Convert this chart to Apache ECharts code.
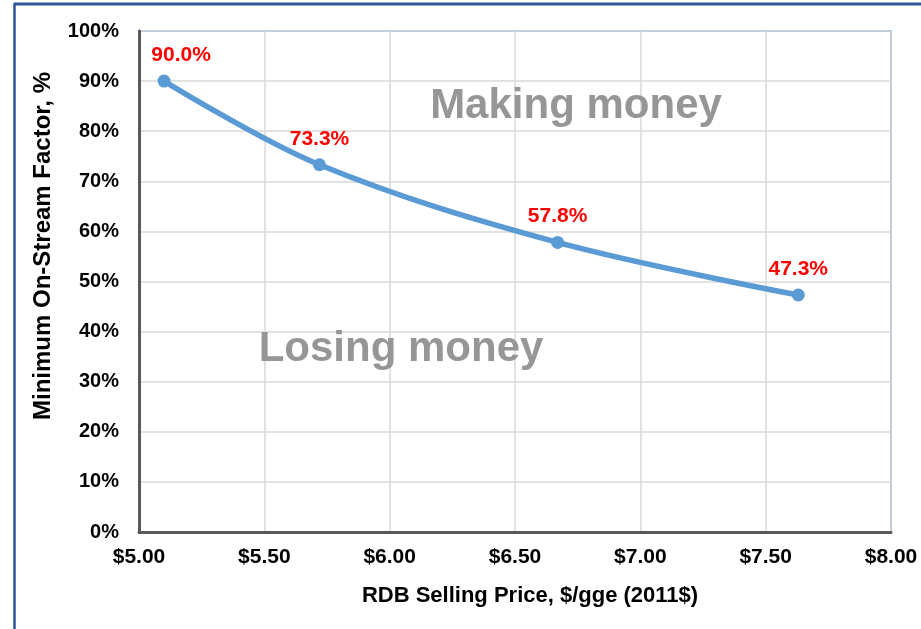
<!DOCTYPE html>
<html>
<head>
<meta charset="utf-8">
<script src="https://cdn.jsdelivr.net/npm/echarts@6/dist/echarts.min.js"></script>
<style>html,body{margin:0;padding:0;background:#fff;}#c{width:921px;height:629px;}</style>
</head>
<body>
<div id="c"></div>
<script>
var prices = [5.10, 5.72, 6.67, 7.63];
var factors = [90.0, 73.3, 57.8, 47.3];
var labels = ['90.0%', '73.3%', '57.8%', '47.3%'];
var xTicks = ['$5.00', '$5.50', '$6.00', '$6.50', '$7.00', '$7.50', '$8.00'];
var yTicks = ['0%', '10%', '20%', '30%', '40%', '50%', '60%', '70%', '80%', '90%', '100%'];
var xTitle = 'RDB Selling Price, $/gge (2011$)';
var yTitle = 'Minimum On-Stream Factor, %';
var regionTexts = ['Making money', 'Losing money'];

var FONT = '"Liberation Sans", Arial, sans-serif';
var chart = echarts.init(document.getElementById('c'), null, {renderer: 'canvas'});

var seriesData = prices.map(function (p, i) {
  var item = {value: [p, factors[i]]};
  if (i === 0) item.label = {offset: [17, 0]};
  return item;
});

chart.setOption({
  animation: false,
  backgroundColor: '#ffffff',
  grid: {left: 139, right: 30, top: 31, bottom: 97, show: true, borderColor: '#4F8FCF', borderWidth: 1.5},
  xAxis: {
    type: 'value', min: 5, max: 8, interval: 0.5,
    axisLine: {show: true, onZero: false, lineStyle: {color: '#595959', width: 3}},
    axisTick: {show: false},
    splitLine: {show: true, lineStyle: {color: '#D9D9D9', width: 1.5}},
    axisLabel: {
      margin: 15, color: '#000', fontFamily: FONT, fontWeight: 'bold', fontSize: 21,
      formatter: function (v) { return xTicks[Math.round((v - 5) / 0.5)]; }
    },
    name: xTitle, nameLocation: 'middle', nameGap: 53,
    nameTextStyle: {color: '#000', fontFamily: FONT, fontWeight: 'bold', fontSize: 22, padding: [0, 0, 0, 30]}
  },
  yAxis: {
    type: 'value', min: 0, max: 100, interval: 10,
    axisLine: {show: true, lineStyle: {color: '#595959', width: 3}},
    axisTick: {show: false},
    splitLine: {show: true, lineStyle: {color: '#D9D9D9', width: 1.5}},
    axisLabel: {
      margin: 20, color: '#000', fontFamily: FONT, fontWeight: 'bold', fontSize: 20,
      formatter: function (v) { return yTicks[Math.round(v / 10)]; }
    }
  },
  series: [{
    type: 'line',
    data: seriesData,
    smooth: 0.35,
    symbol: 'circle',
    symbolSize: 13,
    lineStyle: {color: '#5B9BD5', width: 5.5},
    itemStyle: {color: '#5B9BD5'},
    label: {
      show: true, position: 'top', distance: 9,
      color: '#FF0000', fontFamily: FONT, fontWeight: 'bold', fontSize: 21,
      formatter: function (p) { return labels[p.dataIndex]; }
    },
    z: 5
  }],
  graphic: [
    {type: 'line', shape: {x1: 14, y1: 4, x2: 921, y2: 4}, style: {stroke: '#2F5597', lineWidth: 3}, z: 100},
    {type: 'line', shape: {x1: 14.5, y1: 3, x2: 14.5, y2: 629}, style: {stroke: '#2F5597', lineWidth: 2.5}, z: 100},
    {type: 'text', x: 43, y: 246, rotation: Math.PI / 2,
      style: {text: yTitle, fill: '#000', font: 'bold 24px ' + FONT, textAlign: 'center', textVerticalAlign: 'middle'}},
    {type: 'text', x: 576, y: 106,
      style: {text: regionTexts[0], fill: '#969696', font: 'bold 42px ' + FONT, textAlign: 'center', textVerticalAlign: 'middle'}, z: 50},
    {type: 'text', x: 401, y: 349,
      style: {text: regionTexts[1], fill: '#969696', font: 'bold 42px ' + FONT, textAlign: 'center', textVerticalAlign: 'middle'}, z: 50}
  ]
});
</script>
</body>
</html>
